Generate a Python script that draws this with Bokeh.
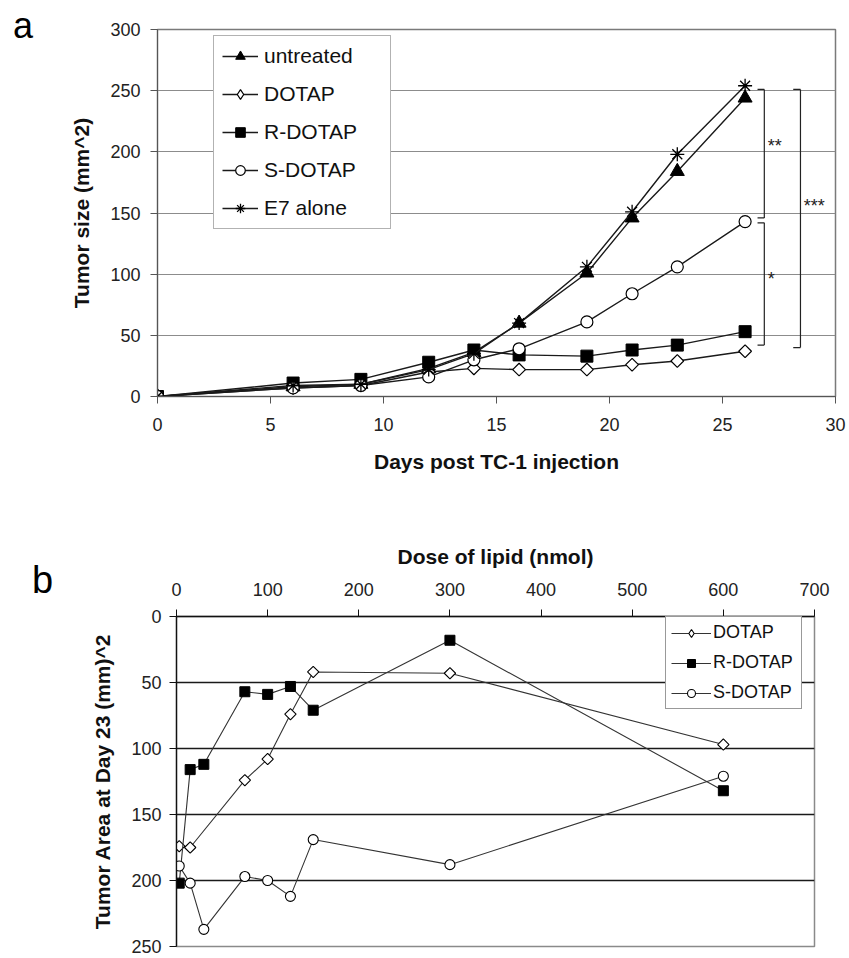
import math
from bokeh.plotting import figure
from bokeh.layouts import row
from bokeh.models import Range1d, FixedTicker, Div, Legend, LegendItem
from bokeh.embed import file_html
from bokeh.resources import INLINE
from bokeh.core.properties import value

FONT = "Liberation Sans"

# ---------------- Panel a data ----------------
days = [0, 6, 9, 12, 14, 16, 19, 21, 23, 26]
untreated = [0, 8, 10, 23, 36, 60, 101, 146, 184, 244]
dotap_a = [0, 7, 9, 20, 23, 22, 22, 26, 29, 37]
r_dotap_a = [0, 11, 14, 28, 38, 34, 33, 38, 42, 53]
s_dotap_a = [0, 7, 9, 16, 30, 39, 61, 84, 106, 143]
e7_alone = [0, 9, 10, 22, 35, 60, 106, 151, 198, 254]
x_ticks_a = [0, 5, 10, 15, 20, 25, 30]
y_ticks_a = [0, 50, 100, 150, 200, 250, 300]

# significance brackets: x, low, high
br_x = [26.85, 26.85, 28.45]
br_lo = [146, 42, 40]
br_hi = [251, 142, 251]
star_text = ["**", "*", "***"]
star_x = [27.0, 27.0, 28.6]
star_y = [205, 96, 156]

# ---------------- Panel b data ----------------
dose_dotap = [3, 15, 75, 100, 125, 150, 300, 600]
area_dotap = [174, 175, 124, 108, 74, 42, 43, 97]
dose_r = [3, 15, 30, 75, 100, 125, 150, 300, 600]
area_r = [202, 116, 112, 57, 59, 53, 71, 18, 132]
dose_s = [3, 15, 30, 75, 100, 125, 150, 300, 600]
area_s = [189, 202, 237, 197, 200, 212, 169, 188, 121]
x_ticks_b = [0, 100, 200, 300, 400, 500, 600, 700]
y_ticks_b = [0, 50, 100, 150, 200, 250]


def style_axis(ax, size="18px"):
    ax.major_label_text_font = FONT
    ax.major_label_text_font_size = size
    ax.major_label_text_color = "#222222"
    ax.axis_label_text_font = FONT
    ax.axis_label_text_color = "#111111"
    ax.minor_tick_in = 0
    ax.minor_tick_out = 0
    ax.major_tick_in = 0
    ax.major_tick_out = 7


def letter_div(ch, size, pad_left, pad_top, height):
    html = ('<div style="font-family: \'Liberation Sans\', Arial, sans-serif; font-size: %dpx; '
            'padding-left: %dpx; padding-top: %dpx; color: #000;">%s</div>'
            % (size, pad_left, pad_top, ch))
    return Div(text=html, width=60, height=height, margin=0)


# ================= Panel a =================
pa = figure(width=789, height=500, x_range=Range1d(0, 30), y_range=Range1d(0, 300),
            output_backend="svg", toolbar_location=None,
            min_border_left=97, min_border_right=14, min_border_top=29, min_border_bottom=104)
pa.extra_y_ranges = {"legend_only": Range1d(-1000, -900)}
pa.background_fill_color = "white"
pa.border_fill_color = "white"
pa.outline_line_color = "#7a7a7a"
pa.outline_line_width = 1.5
pa.xgrid.visible = False
pa.ygrid.ticker = FixedTicker(ticks=y_ticks_a[1:-1])
pa.ygrid.grid_line_color = "#8c8c8c"
pa.ygrid.grid_line_width = 1.2

pa.xaxis.ticker = FixedTicker(ticks=x_ticks_a)
pa.yaxis.ticker = FixedTicker(ticks=y_ticks_a)
style_axis(pa.xaxis[0])
style_axis(pa.yaxis[0])
pa.xaxis.axis_line_color = "#555555"
pa.yaxis.axis_line_color = "#555555"
pa.xaxis.major_tick_line_color = "#555555"
pa.yaxis.major_tick_line_color = "#555555"
pa.xaxis.axis_label = "Days post TC-1 injection"
pa.yaxis.axis_label = "Tumor size (mm^2)"
pa.xaxis.axis_label_text_font_style = "bold"
pa.yaxis.axis_label_text_font_style = "bold"
pa.xaxis.axis_label_text_font_size = "21px"
pa.yaxis.axis_label_text_font_size = "21px"
pa.xaxis.major_label_standoff = 14
pa.yaxis.major_label_standoff = 10
pa.xaxis.axis_label_standoff = 16
pa.yaxis.axis_label_standoff = 14

LC = "#1a1a1a"
LW = 1.4

la1 = pa.line(days, untreated, line_color=LC, line_width=LW)
ma1 = pa.scatter(days, untreated, marker="triangle", size=14, fill_color="black", line_color="black")
la2 = pa.line(days, dotap_a, line_color=LC, line_width=LW)
pa.scatter(days, dotap_a, marker="square", angle=math.pi / 4, size=9, fill_color="white",
           line_color="black", line_width=1.2)
# legend-only glyph (drawn outside the visible range)
ma2 = pa.scatter(days, dotap_a, marker="diamond", size=12, fill_color="white",
                 line_color="black", line_width=1.2, y_range_name="legend_only")
la3 = pa.line(days, r_dotap_a, line_color=LC, line_width=LW)
ma3 = pa.scatter(days, r_dotap_a, marker="square", size=12, fill_color="black", line_color="black")
la4 = pa.line(days, s_dotap_a, line_color=LC, line_width=LW)
ma4 = pa.scatter(days, s_dotap_a, marker="circle", size=12, fill_color="white", line_color="black",
                 line_width=1.2)
la5 = pa.line(days, e7_alone, line_color=LC, line_width=LW)
ma5 = pa.scatter(days, e7_alone, marker="asterisk", size=14, line_color="black", line_width=1.3)

# brackets
tick_len = [0.3, 0.3, 0.32]
for bx, lo, hi, tl in zip(br_x, br_lo, br_hi, tick_len):
    pa.segment(x0=[bx, bx - tl, bx - tl], y0=[lo, lo, hi], x1=[bx, bx, bx], y1=[hi, lo, hi],
               line_color="#222222", line_width=1.2)
pa.text(x=star_x, y=star_y, text=star_text, text_font=value(FONT), text_font_size="18px",
        text_color="#222222", text_baseline="alphabetic", text_align="left")

leg_a = Legend(items=[
    LegendItem(label="untreated", renderers=[la1, ma1]),
    LegendItem(label="DOTAP", renderers=[la2, ma2]),
    LegendItem(label="R-DOTAP", renderers=[la3, ma3]),
    LegendItem(label="S-DOTAP", renderers=[la4, ma4]),
    LegendItem(label="E7 alone", renderers=[la5, ma5]),
])
leg_a.location = (56, 167)
leg_a.label_text_font = FONT
leg_a.label_text_font_size = "21px"
leg_a.label_text_color = "#111111"
leg_a.glyph_width = 36
leg_a.glyph_height = 24
leg_a.label_height = 24
leg_a.label_width = 118
leg_a.spacing = 14
leg_a.padding = 8
leg_a.margin = 0
leg_a.label_standoff = 6
leg_a.border_line_color = "#666666"
leg_a.border_line_width = 1.2
leg_a.background_fill_alpha = 1.0
pa.add_layout(leg_a, "center")

# ================= Panel b =================
pb = figure(width=789, height=458, x_range=Range1d(0, 700), y_range=Range1d(250, 0),
            x_axis_location="above", output_backend="svg", toolbar_location=None,
            min_border_left=116, min_border_right=35, min_border_top=116, min_border_bottom=12)
pb.extra_y_ranges = {"legend_only": Range1d(-1000, -900)}
pb.background_fill_color = "white"
pb.border_fill_color = "white"
pb.outline_line_color = "#8a8a8a"
pb.outline_line_width = 1.5
pb.xgrid.visible = False
pb.ygrid.ticker = FixedTicker(ticks=y_ticks_b[1:-1])
pb.ygrid.grid_line_color = "#1a1a1a"
pb.ygrid.grid_line_width = 1.3

pb.xaxis.ticker = FixedTicker(ticks=x_ticks_b)
pb.yaxis.ticker = FixedTicker(ticks=y_ticks_b)
style_axis(pb.xaxis[0])
style_axis(pb.yaxis[0])
pb.xaxis.axis_line_color = "#111111"
pb.yaxis.axis_line_color = "#111111"
pb.xaxis.axis_line_width = 1.3
pb.yaxis.axis_line_width = 1.3
pb.xaxis.major_tick_line_color = "#111111"
pb.yaxis.major_tick_line_color = "#111111"
pb.xaxis.axis_label = "Dose of lipid (nmol)"
pb.yaxis.axis_label = "Tumor Area at Day 23 (mm)^2"
pb.xaxis.axis_label_text_font_style = "bold"
pb.yaxis.axis_label_text_font_style = "bold"
pb.xaxis.axis_label_text_font_size = "21px"
pb.yaxis.axis_label_text_font_size = "21px"
pb.xaxis.major_label_standoff = 14
pb.yaxis.major_label_standoff = 8
pb.xaxis.axis_label_standoff = 12
pb.yaxis.axis_label_standoff = 14

LC2 = "#333333"
LW2 = 1.1
lb1 = pb.line(dose_dotap, area_dotap, line_color=LC2, line_width=LW2)
pb.scatter(dose_dotap, area_dotap, marker="square", angle=math.pi / 4, size=8, fill_color="white",
           line_color="black", line_width=1.1)
mb1 = pb.scatter(dose_dotap, area_dotap, marker="diamond", size=11, fill_color="white",
                 line_color="black", line_width=1.1, y_range_name="legend_only")
lb2 = pb.line(dose_r, area_r, line_color=LC2, line_width=LW2)
mb2 = pb.scatter(dose_r, area_r, marker="square", size=10, fill_color="black", line_color="black")
lb3 = pb.line(dose_s, area_s, line_color=LC2, line_width=LW2)
mb3 = pb.scatter(dose_s, area_s, marker="circle", size=10, fill_color="white", line_color="black",
                 line_width=1.1)

leg_b = Legend(items=[
    LegendItem(label="DOTAP", renderers=[lb1, mb1]),
    LegendItem(label="R-DOTAP", renderers=[lb2, mb2]),
    LegendItem(label="S-DOTAP", renderers=[lb3, mb3]),
])
leg_b.location = (489, 237)
leg_b.label_text_font = FONT
leg_b.label_text_font_size = "18px"
leg_b.label_text_color = "#111111"
leg_b.glyph_width = 40
leg_b.glyph_height = 20
leg_b.label_height = 20
leg_b.label_width = 83
leg_b.spacing = 9
leg_b.padding = 5
leg_b.margin = 0
leg_b.label_standoff = 2
leg_b.border_line_color = "#333333"
leg_b.border_line_width = 1.3
leg_b.background_fill_alpha = 1.0
pb.add_layout(leg_b, "center")

row_a = row(letter_div("a", 36, 13, 0, 500), pa, spacing=0)
row_b = row(letter_div("b", 38, 32, 53, 458), pb, spacing=0)

open("out.html", "w").write(file_html([row_a, row_b], INLINE))
